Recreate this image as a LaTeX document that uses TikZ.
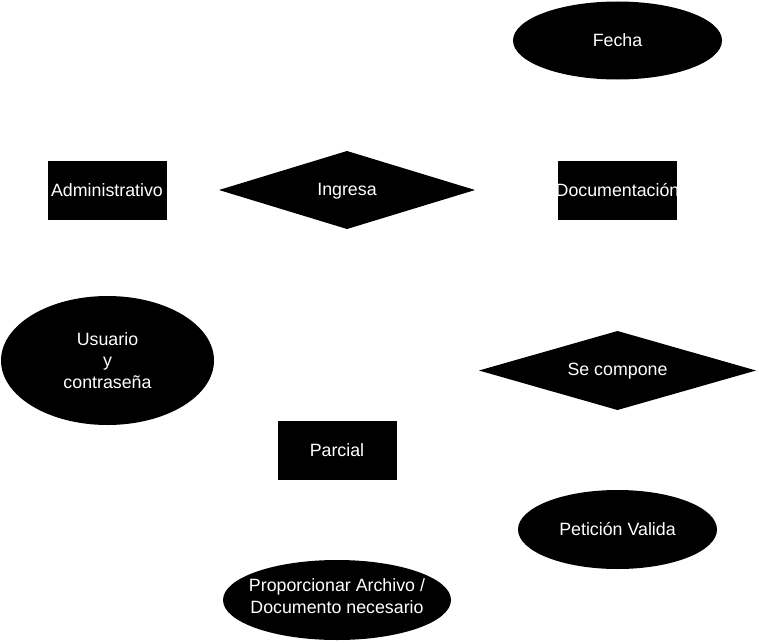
\documentclass[tikz,border=0pt]{standalone}
\usepackage{fontspec}
\setmainfont{Liberation Sans}
\usetikzlibrary{shapes.geometric}
\tikzset{
  every node/.style={inner sep=0pt, outer sep=0pt},
  txt/.style={text=white, font=\fontsize{17.8}{21.5}\selectfont, align=center},
  ent/.style={fill=black, draw=none, rectangle},
  rel/.style={fill=black, draw=none, diamond},
  att/.style={fill=black, draw=none, ellipse},
}
\begin{document}
\begin{tikzpicture}[x=1pt,y=-1pt]
\useasboundingbox (0,0) rectangle (759,642);
% entities
\node[ent, minimum width=119, minimum height=59] (adm) at (107,190) {};
\node[txt] (admt) at (adm) {Administrativo};
\node[ent, minimum width=119, minimum height=59] (doc) at (617.5,190) {};
\node[txt] (doct) at (doc) {Documentación};
\node[ent, minimum width=119, minimum height=59] (par) at (337,450) {};
\node[txt] (part) at (par) {Parcial};
% relations
\node[rel, minimum width=256, minimum height=78] (ing) at (347,190) {};
\node[txt] (ingt) at ([yshift=-1]ing.center) {Ingresa};
\node[rel, minimum width=277, minimum height=79] (sec) at (617.5,370.5) {};
\node[txt] (sect) at ([yshift=-1]sec.center) {Se compone};
% attributes
\node[att, minimum width=209, minimum height=78] (fec) at (617.5,40.5) {};
\node[txt] (fect) at (fec) {Fecha};
\node[att, minimum width=213, minimum height=129] (usu) at (107.5,360.5) {};
\node[txt] (usut) at (usu) {Usuario\\y\\contraseña};
\node[att, minimum width=199, minimum height=79] (pet) at (617.5,529.5) {};
\node[txt] (pett) at (pet) {Petición Valida};
\node[att, minimum width=228, minimum height=80] (pro) at (337,600) {};
\node[txt] (prot) at ([yshift=4]pro.center) {Proporcionar Archivo /\\Documento necesario};
\end{tikzpicture}
\end{document}
